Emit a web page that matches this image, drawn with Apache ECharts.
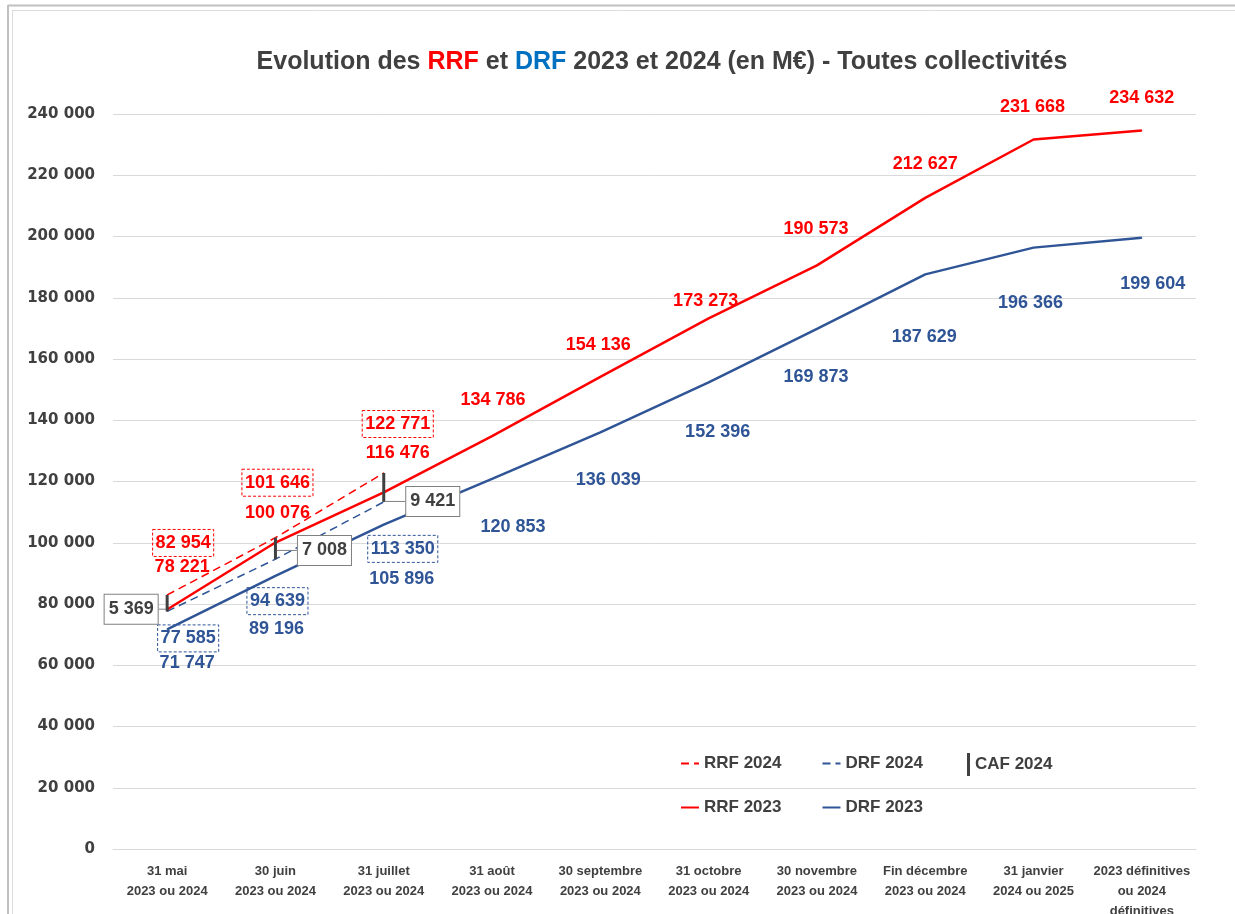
<!DOCTYPE html>
<html>
<head>
<meta charset="utf-8">
<script src="https://cdn.jsdelivr.net/npm/echarts@6/dist/echarts.min.js"></script>
<style>
html, body { margin: 0; padding: 0; background: #fff; }
#chart { width: 1235px; height: 914px; }
</style>
</head>
<body>
<div id="chart"></div>
<script>
// données (M€)
var categories = [
    '31 mai\n2023 ou 2024', '30 juin\n2023 ou 2024', '31 juillet\n2023 ou 2024',
    '31 août\n2023 ou 2024', '30 septembre\n2023 ou 2024', '31 octobre\n2023 ou 2024',
    '30 novembre\n2023 ou 2024', 'Fin décembre\n2023 ou 2024', '31 janvier\n2024 ou 2025',
    '2023 définitives\nou 2024\ndéfinitives'
];
var rrf2023 = [78221, 100076, 116476, 134786, 154136, 173273, 190573, 212627, 231668, 234632];
var drf2023 = [71747, 89196, 105896, 120853, 136039, 152396, 169873, 187629, 196366, 199604];
var rrf2024 = [82954, 101646, 122771];
var drf2024 = [77585, 94639, 113350];
var caf2024 = [5369, 7008, 9421];

// décalage des étiquettes (px)
var rrf23Off = [[15, -42], [2, -29], [14, -39], [1, -36], [-2, -32], [-3, -17], [-1, -36], [0, -34], [-1, -32], [0, -32]];
var drf23Off = [[20, 34], [1, 53], [18, 54], [21, 48], [8, 48], [9, 50], [-1, 48], [-1, 63], [-3, 55], [11, 46]];
var rrf24Off = [[16, -52], [2, -55], [14, -49]];
var drf24Off = [[21, 27], [2, 42], [19, 47]];
var cafOff = [[-36, 6], [49, 2], [49, 14]];

var RED = '#ff0000';
var BLUE = '#2f5597';
var DARK = '#404040';
var FONT = "'Liberation Sans', Arial, sans-serif";

function fmt(v) {
    return String(v).replace(/\B(?=(\d{3})+(?!\d))/g, ' ');
}

function withOffsets(values, offsets) {
    return values.map(function (v, i) {
        return { value: v, label: { offset: offsets[i] } };
    });
}

var labelBase = {
    show: true,
    position: 'inside',
    fontFamily: FONT,
    fontWeight: 'bold',
    fontSize: 18,
    formatter: function (p) { return fmt(p.value); }
};

var myChart = echarts.init(document.getElementById('chart'));

var option = {
    backgroundColor: '#fff',
    animation: false,
    graphic: [
        { type: 'line', shape: { x1: 8, y1: 5.5, x2: 1235, y2: 5.5 }, style: { stroke: '#c0c0c0', lineWidth: 2 } },
        { type: 'line', shape: { x1: 8, y1: 5, x2: 8, y2: 914 }, style: { stroke: '#c0c0c0', lineWidth: 2 } },
        { type: 'line', shape: { x1: 12, y1: 10.5, x2: 1235, y2: 10.5 }, style: { stroke: '#dcdcdc', lineWidth: 1 } },
        { type: 'line', shape: { x1: 12.5, y1: 10, x2: 12.5, y2: 914 }, style: { stroke: '#dcdcdc', lineWidth: 1 } },
        {
            type: 'text',
            x: 662,
            y: 62,
            style: {
                text: '{a|Evolution des }{r|RRF}{a| et }{b|DRF}{a| 2023 et 2024 (en M€) - Toutes collectivités}',
                align: 'center',
                verticalAlign: 'middle',
                rich: {
                    a: { fontFamily: FONT, fontWeight: 'bold', fontSize: 25, fill: DARK },
                    r: { fontFamily: FONT, fontWeight: 'bold', fontSize: 25, fill: RED },
                    b: { fontFamily: FONT, fontWeight: 'bold', fontSize: 25, fill: '#0070c0' }
                }
            }
        }
    ],
    legend: [
        {
            left: 680, top: 755, padding: 0, itemGap: 40,
            itemWidth: 18, itemHeight: 14,
            itemStyle: { color: 'rgba(0,0,0,0)', borderWidth: 0 },
            textStyle: { fontFamily: FONT, fontWeight: 'bold', fontSize: 17, color: DARK },
            data: ['RRF 2024', 'DRF 2024']
        },
        {
            left: 967, top: 753, padding: 0,
            itemWidth: 3, itemHeight: 23, icon: 'rect',
            textStyle: { fontFamily: FONT, fontWeight: 'bold', fontSize: 17, color: DARK },
            data: ['CAF 2024']
        },
        {
            left: 680, top: 799, padding: 0, itemGap: 40,
            itemWidth: 18, itemHeight: 14,
            itemStyle: { color: 'rgba(0,0,0,0)', borderWidth: 0 },
            textStyle: { fontFamily: FONT, fontWeight: 'bold', fontSize: 17, color: DARK },
            data: ['RRF 2023', 'DRF 2023']
        }
    ],
    grid: { left: 113, right: 39, top: 114, bottom: 65, containLabel: false, outerBoundsMode: 'none' },
    xAxis: {
        type: 'category',
        data: categories,
        boundaryGap: true,
        axisLine: { lineStyle: { color: '#d9d9d9', width: 1 } },
        axisTick: { show: false },
        axisLabel: {
            margin: 12,
            interval: 0,
            fontFamily: FONT,
            fontWeight: 'bold',
            fontSize: 13,
            lineHeight: 20,
            color: DARK
        }
    },
    yAxis: {
        type: 'value',
        min: 0,
        max: 240000,
        interval: 20000,
        axisLine: { show: false },
        axisTick: { show: false },
        splitLine: { lineStyle: { color: '#d9d9d9', width: 1 } },
        axisLabel: {
            margin: 18,
            fontFamily: "'DejaVu Sans', Verdana, sans-serif",
            fontWeight: 'bold',
            fontSize: 15,
            color: DARK,
            formatter: function (v) { return fmt(v); }
        }
    },
    series: [
        {
            name: 'RRF 2024',
            type: 'line',
            data: withOffsets(rrf2024, rrf24Off),
            symbol: 'circle', symbolSize: 1,
            itemStyle: { color: RED },
            lineStyle: { color: RED, width: 1.5, type: [8, 5] },
            label: Object.assign({}, labelBase, {
                color: RED,
                borderColor: RED, borderWidth: 1, borderType: [3, 2],
                padding: [5, 3, 4, 3]
            }),
            z: 3
        },
        {
            name: 'DRF 2024',
            type: 'line',
            data: withOffsets(drf2024, drf24Off),
            symbol: 'circle', symbolSize: 1,
            itemStyle: { color: BLUE },
            lineStyle: { color: BLUE, width: 1.5, type: [8, 5] },
            label: Object.assign({}, labelBase, {
                color: BLUE,
                borderColor: BLUE, borderWidth: 1, borderType: [3, 2],
                padding: [5, 3, 4, 3]
            }),
            z: 3
        },
        {
            name: 'RRF 2023',
            type: 'line',
            data: withOffsets(rrf2023, rrf23Off),
            symbol: 'circle', symbolSize: 1,
            itemStyle: { color: RED },
            lineStyle: { color: RED, width: 2.5 },
            label: Object.assign({}, labelBase, { color: RED }),
            z: 4
        },
        {
            name: 'DRF 2023',
            type: 'line',
            data: withOffsets(drf2023, drf23Off),
            symbol: 'circle', symbolSize: 1,
            itemStyle: { color: BLUE },
            lineStyle: { color: BLUE, width: 2.5 },
            label: Object.assign({}, labelBase, { color: BLUE }),
            z: 4
        },
        {
            name: 'base',
            type: 'bar',
            stack: 'caf',
            barWidth: 3,
            silent: true,
            data: drf2024,
            itemStyle: { color: 'rgba(0,0,0,0)' },
            z: 5
        },
        {
            name: 'CAF 2024',
            type: 'bar',
            stack: 'caf',
            barWidth: 3,
            data: caf2024,
            itemStyle: { color: DARK },
            label: {
                show: true,
                position: 'inside',
                fontFamily: FONT,
                fontWeight: 'bold',
                fontSize: 18,
                color: DARK,
                backgroundColor: '#fff',
                borderColor: '#808080',
                borderWidth: 1,
                padding: [6, 4, 5, 4],
                formatter: function (p) { return fmt(p.value); }
            },
            labelLayout: function (params) {
                var o = cafOff[params.dataIndex];
                return { dx: o[0], dy: o[1] };
            },
            labelLine: { show: true, lineStyle: { color: '#808080', width: 1 } },
            z: 6
        }
    ]
};

myChart.setOption(option);
</script>
</body>
</html>
